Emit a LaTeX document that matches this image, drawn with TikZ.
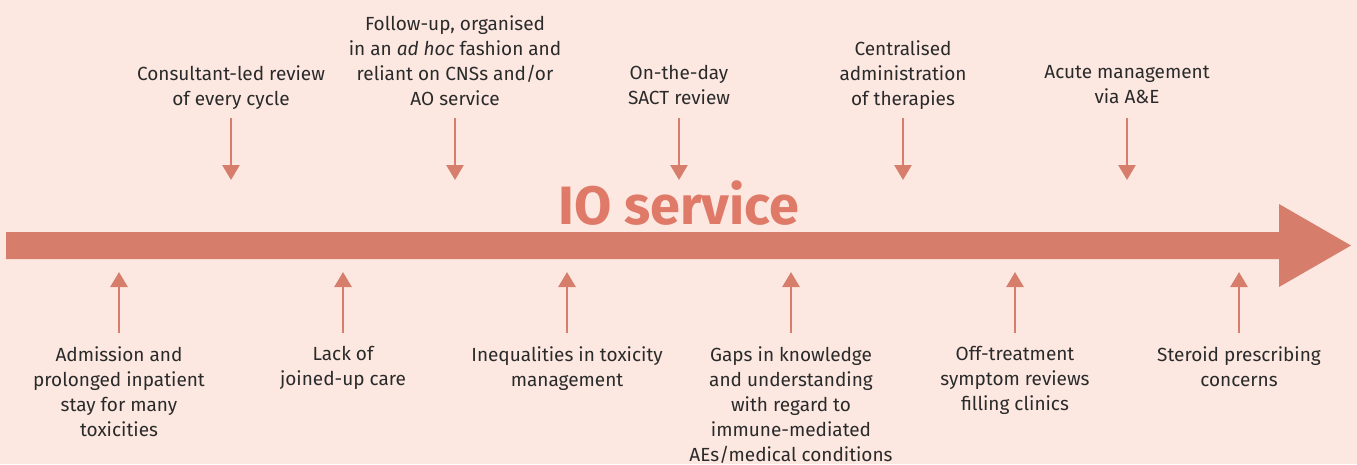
\documentclass[tikz,border=0pt]{standalone}
\usepackage{fontspec}
\setmainfont{Fira Sans}
\usetikzlibrary{arrows.meta}
\usetikzlibrary{positioning}
\definecolor{bgpink}{HTML}{FCE8E1}
\definecolor{salmon}{HTML}{D67E6B}
\definecolor{iored}{HTML}{E07A68}
\definecolor{txtgrey}{HTML}{2A2A2A}

\begin{document}
\begin{tikzpicture}[x=1pt,y=-1pt]
  \tikzset{note/.style={align=center, text=txtgrey, inner sep=0pt, anchor=north,
      font=\fontsize{19}{25}\selectfont}}
  \tikzset{tick/.style={draw=salmon, line width=2.6pt, -{Triangle[width=17pt,length=15pt]}}}

  \fill[bgpink] (0,0) rectangle (1357,464);

  % main arrow
  \fill[salmon] (6,232) -- (1279,232) -- (1279,204) -- (1351,245.5)
    -- (1279,287) -- (1279,259) -- (6,259) -- cycle;
  \node[font=\fontsize{54}{54}\selectfont\bfseries, text=iored, anchor=base, inner sep=0pt] (io) at (679,224) {IO service};

  % above the line
  \node[note] (t1) at (231,65.5) {Consultant-led review\\of every cycle};
  \node[note] (t2) at (455,15.5) {Follow-up, organised\\in an \textit{ad hoc} fashion and\\reliant on CNSs and/or\\AO service};
  \node[note] (t3) at (679,65.5) {On-the-day\\SACT review};
  \node[note] (t4) at (903,40.5) {Centralised\\administration\\of therapies};
  \node[note] (t5) at (1127,65.5) {Acute management\\via A\&E};

  % below the line
  \node[note] (b1) at (119,346.5) {Admission and\\prolonged inpatient\\stay for many\\toxicities};
  \node[note] (b2) at (343,346.5) {Lack of\\joined-up care};
  \node[note] (b3) at (567,346.5) {Inequalities in toxicity\\management};
  \node[note] (b4) at (791,346.5) {Gaps in knowledge\\and understanding\\with regard to\\immune-mediated\\AEs/medical conditions};
  \node[note] (b5) at (1015,346.5) {Off-treatment\\symptom reviews\\filling clinics};
  \node[note] (b6) at (1239,346.5) {Steroid prescribing\\concerns};

  \foreach \n/\x in {t1/231,t2/455,t3/679,t4/903,t5/1127}{
    \coordinate (\n-from) at (\x,118);
    \coordinate (\n-to) at (\x,180);
    \draw[tick] (\n-from) -- (\n-to);
  }
  \foreach \n/\x in {b1/119,b2/343,b3/567,b4/791,b5/1015,b6/1239}{
    \coordinate (\n-from) at (\x,333);
    \coordinate (\n-to) at (\x,272);
    \draw[tick] (\n-from) -- (\n-to);
  }
\end{tikzpicture}
\end{document}
